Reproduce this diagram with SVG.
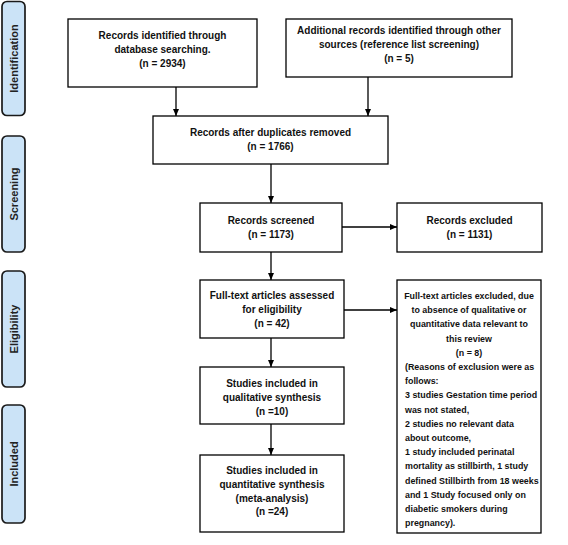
<svg xmlns="http://www.w3.org/2000/svg" width="568" height="545" viewBox="0 0 568 545">
<defs>
<marker id="ah" markerUnits="userSpaceOnUse" markerWidth="7" markerHeight="6" refX="7" refY="3" orient="auto">
<path d="M0,0 L7,3 L0,6 Z" fill="#000"/>
</marker>
</defs>
<style>
.box{fill:#fff;stroke:#000;stroke-width:1.3}
.lab{fill:#cbe3f7;stroke:#1a1a1a;stroke-width:1.7}
text{font-family:"Liberation Sans",Arial,sans-serif;font-weight:bold;fill:#111}
.t{font-size:10px;text-anchor:middle}
.s{font-size:8.9px}
.c{text-anchor:middle}
.l{font-size:11px;text-anchor:middle;fill:#222}
.con{stroke:#000;stroke-width:1.3;fill:none;marker-end:url(#ah)}
</style>
<rect width="568" height="545" fill="#fff"/>

<g id="lab-identification"><rect class="lab" x="2" y="1.5" width="23" height="114" rx="5"/><text class="l" transform="translate(17.5,58.5) rotate(-90)">Identification</text></g>
<g id="lab-screening"><rect class="lab" x="2" y="136" width="23" height="116" rx="5"/><text class="l" transform="translate(17.5,194) rotate(-90)">Screening</text></g>
<g id="lab-eligibility"><rect class="lab" x="2" y="271" width="23" height="116" rx="5"/><text class="l" transform="translate(17.5,329) rotate(-90)">Eligibility</text></g>
<g id="lab-included"><rect class="lab" x="2" y="405" width="23" height="118" rx="5"/><text class="l" transform="translate(17.5,464) rotate(-90)">Included</text></g>

<g id="connectors">
<line class="con" x1="176" y1="87" x2="176" y2="116"/>
<line class="con" x1="368" y1="77" x2="368" y2="116"/>
<line class="con" x1="271" y1="164" x2="271" y2="203"/>
<line class="con" x1="342" y1="227" x2="397" y2="227"/>
<line class="con" x1="271" y1="252" x2="271" y2="280"/>
<line class="con" x1="344" y1="310" x2="397" y2="310"/>
<line class="con" x1="271" y1="338" x2="271" y2="367"/>
<line class="con" x1="271" y1="424" x2="271" y2="455"/>
</g>

<g id="n1"><rect class="box" x="68" y="19" width="189" height="68"/>
<text class="t" x="162.5" y="38.5">Records identified through</text>
<text class="t" x="162.5" y="52.5">database searching.</text>
<text class="t" x="162.5" y="66.5">(n = 2934)</text></g>

<g id="n2"><rect class="box" x="286" y="19" width="226" height="58"/>
<text class="t" x="399" y="34">Additional records identified through other</text>
<text class="t" x="399" y="48">sources (reference list screening)</text>
<text class="t" x="399" y="62">(n = 5)</text></g>

<g id="n3"><rect class="box" x="153" y="116" width="235" height="48"/>
<text class="t" x="270.5" y="136">Records after duplicates removed</text>
<text class="t" x="270.5" y="150">(n = 1766)</text></g>

<g id="n4"><rect class="box" x="200" y="203" width="142" height="49"/>
<text class="t" x="271" y="224">Records screened</text>
<text class="t" x="271" y="238">(n = 1173)</text></g>

<g id="n5"><rect class="box" x="397" y="203" width="145" height="49"/>
<text class="t" x="469.5" y="224">Records excluded</text>
<text class="t" x="469.5" y="238">(n = 1131)</text></g>

<g id="n6"><rect class="box" x="200" y="280" width="144" height="58"/>
<text class="t" x="272" y="298.5">Full-text articles assessed</text>
<text class="t" x="272" y="313">for eligibility</text>
<text class="t" x="272" y="327">(n = 42)</text></g>

<g id="n7"><rect class="box" x="397" y="280" width="144" height="253"/>
<text class="s c" x="469" y="299">Full-text articles excluded, due</text>
<text class="s c" x="469" y="313.2">to absence of qualitative or</text>
<text class="s c" x="469" y="327.4">quantitative data relevant to</text>
<text class="s c" x="469" y="341.6">this review</text>
<text class="s c" x="469" y="355.8">(n = 8)</text>
<text class="s" x="405" y="370">(Reasons of exclusion were as</text>
<text class="s" x="405" y="384.2">follows:</text>
<text class="s" x="405" y="398.4">3 studies Gestation time period</text>
<text class="s" x="405" y="412.6">was not stated,</text>
<text class="s" x="405" y="426.8">2 studies no relevant data</text>
<text class="s" x="405" y="441">about outcome,</text>
<text class="s" x="405" y="455.2">1 study included perinatal</text>
<text class="s" x="405" y="469.4">mortality as stillbirth, 1 study</text>
<text class="s" x="405" y="483.6">defined Stillbirth from 18 weeks</text>
<text class="s" x="405" y="497.8">and 1 Study focused only on</text>
<text class="s" x="405" y="512">diabetic smokers during</text>
<text class="s" x="405" y="526.2">pregnancy).</text></g>

<g id="n8"><rect class="box" x="200" y="367" width="144" height="57"/>
<text class="t" x="272" y="386.5">Studies included in</text>
<text class="t" x="272" y="400.5">qualitative synthesis</text>
<text class="t" x="272" y="414.5">(n =10)</text></g>

<g id="n9"><rect class="box" x="200" y="455" width="144" height="77"/>
<text class="t" x="272" y="473.5">Studies included in</text>
<text class="t" x="272" y="488">quantitative synthesis</text>
<text class="t" x="272" y="501.5">(meta-analysis)</text>
<text class="t" x="272" y="515">(n =24)</text></g>
</svg>
